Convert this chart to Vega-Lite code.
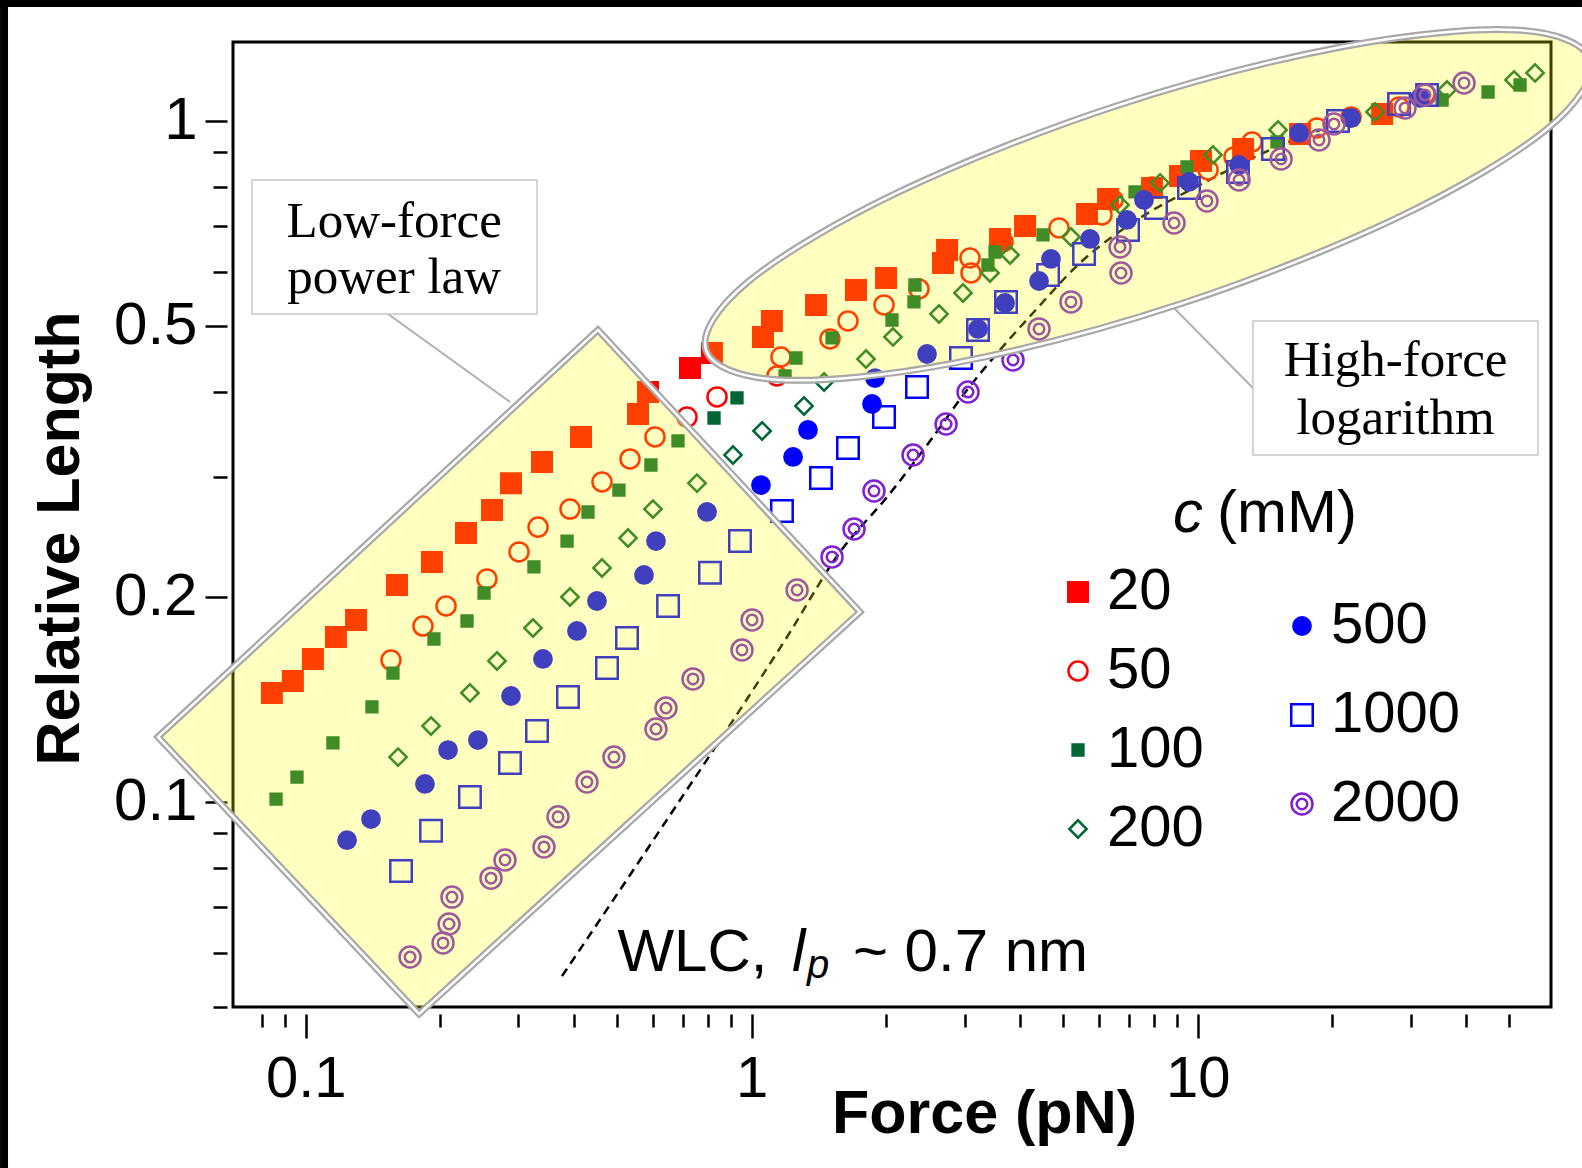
{
"$schema": "https://vega.github.io/schema/vega-lite/v6.json",
"width": 1318, "height": 965,
"autosize": "none",
"padding": {"left": 233, "top": 42, "right": 31, "bottom": 161},
"background": "white",
"config": {"view": {"stroke": "black", "strokeWidth": 3}, "text": {"font": "Liberation Sans", "color": "black"}},
"datasets": {
"pts": [
{"c":"20","F":0.084,"L":0.1445},{"c":"20","F":0.0936,"L":0.1506},{"c":"20","F":0.1038,"L":0.1622},{"c":"20","F":0.1169,"L":0.1747},{"c":"20","F":0.1297,"L":0.1851},{"c":"20","F":0.1602,"L":0.2083},{"c":"20","F":0.1919,"L":0.2251},{"c":"20","F":0.2288,"L":0.2483},{"c":"20","F":0.2617,"L":0.2684},{"c":"20","F":0.2886,"L":0.2939},{"c":"20","F":0.3387,"L":0.3157},{"c":"20","F":0.4143,"L":0.3436},{"c":"20","F":0.556,"L":0.3713},{"c":"20","F":0.5855,"L":0.3999},{"c":"20","F":0.7272,"L":0.4338},{"c":"20","F":0.8144,"L":0.4563},{"c":"20","F":1.06,"L":0.4818},{"c":"20","F":1.11,"L":0.5085},{"c":"20","F":1.394,"L":0.5368},{"c":"20","F":1.713,"L":0.5647},{"c":"20","F":2.001,"L":0.5881},{"c":"20","F":2.685,"L":0.6187},{"c":"20","F":2.742,"L":0.6465},{"c":"20","F":3.604,"L":0.6711},{"c":"20","F":4.101,"L":0.7012},{"c":"20","F":5.647,"L":0.7302},{"c":"20","F":6.295,"L":0.7679},{"c":"20","F":7.9,"L":0.7975},{"c":"20","F":9.127,"L":0.8302},{"c":"20","F":10.17,"L":0.8734},{"c":"20","F":12.64,"L":0.9097},{"c":"20","F":16.96,"L":0.957},{"c":"20","F":25.91,"L":1.024},
{"c":"50","F":0.1553,"L":0.1616},{"c":"50","F":0.1832,"L":0.1813},{"c":"50","F":0.2064,"L":0.194},{"c":"50","F":0.2549,"L":0.2126},{"c":"50","F":0.3008,"L":0.2329},{"c":"50","F":0.3319,"L":0.2533},{"c":"50","F":0.3914,"L":0.2692},{"c":"50","F":0.4617,"L":0.2951},{"c":"50","F":0.5335,"L":0.3189},{"c":"50","F":0.6069,"L":0.3436},{"c":"50","F":0.7161,"L":0.3675},{"c":"50","F":0.8361,"L":0.3933},{"c":"50","F":1.139,"L":0.4222},{"c":"50","F":1.163,"L":0.4502},{"c":"50","F":1.498,"L":0.4786},{"c":"50","F":1.644,"L":0.5085},{"c":"50","F":1.98,"L":0.5368},{"c":"50","F":2.372,"L":0.5666},{"c":"50","F":3.102,"L":0.5981},{"c":"50","F":3.086,"L":0.6292},{"c":"50","F":3.66,"L":0.6644},{"c":"50","F":4.887,"L":0.6965},{"c":"50","F":6.101,"L":0.7278},{"c":"50","F":6.458,"L":0.7656},{"c":"50","F":7.9,"L":0.8},{"c":"50","F":10.55,"L":0.8474},{"c":"50","F":12.06,"L":0.8855},{"c":"50","F":13.24,"L":0.9315},{"c":"50","F":18.51,"L":0.9766},{"c":"50","F":22.07,"L":1.0137},{"c":"50","F":28.28,"L":1.0485},{"c":"50","F":32.33,"L":1.0956},
{"c":"100","F":0.0858,"L":0.101},{"c":"100","F":0.0956,"L":0.1088},{"c":"100","F":0.1151,"L":0.1221},{"c":"100","F":0.1408,"L":0.1379},{"c":"100","F":0.1569,"L":0.1546},{"c":"100","F":0.1939,"L":0.1735},{"c":"100","F":0.23,"L":0.1844},{"c":"100","F":0.2511,"L":0.2027},{"c":"100","F":0.3249,"L":0.2214},{"c":"100","F":0.3855,"L":0.2416},{"c":"100","F":0.4295,"L":0.2666},{"c":"100","F":0.5039,"L":0.2871},{"c":"100","F":0.5944,"L":0.3125},{"c":"100","F":0.6835,"L":0.339},{"c":"100","F":0.8232,"L":0.3663},{"c":"100","F":0.9269,"L":0.392},{"c":"100","F":1.188,"L":0.4222},{"c":"100","F":1.257,"L":0.4487},{"c":"100","F":1.514,"L":0.4802},{"c":"100","F":2.063,"L":0.5102},{"c":"100","F":2.311,"L":0.5424},{"c":"100","F":2.323,"L":0.5743},{"c":"100","F":3.386,"L":0.6145},{"c":"100","F":3.512,"L":0.6421},{"c":"100","F":4.499,"L":0.6804},{"c":"100","F":7.235,"L":0.7866},{"c":"100","F":9.462,"L":0.8561},{"c":"100","F":15.06,"L":0.9315},{"c":"100","F":22.07,"L":1.0034},{"c":"100","F":35.31,"L":1.0735},{"c":"100","F":44.77,"L":1.1029},{"c":"100","F":52.81,"L":1.1294},
{"c":"200","F":0.1611,"L":0.1164},{"c":"200","F":0.191,"L":0.1293},{"c":"200","F":0.2335,"L":0.1446},{"c":"200","F":0.2685,"L":0.1611},{"c":"200","F":0.3233,"L":0.1801},{"c":"200","F":0.3914,"L":0.2},{"c":"200","F":0.4617,"L":0.2206},{"c":"200","F":0.528,"L":0.2441},{"c":"200","F":0.6006,"L":0.2692},{"c":"200","F":0.754,"L":0.2939},{"c":"200","F":0.908,"L":0.3232},{"c":"200","F":1.055,"L":0.3506},{"c":"200","F":1.31,"L":0.3815},{"c":"200","F":1.453,"L":0.4137},{"c":"200","F":1.804,"L":0.4471},{"c":"200","F":2.074,"L":0.4818},{"c":"200","F":2.63,"L":0.5207},{"c":"200","F":2.977,"L":0.559},{"c":"200","F":3.422,"L":0.5981},{"c":"200","F":3.795,"L":0.6357},{"c":"200","F":5.198,"L":0.6755},{"c":"200","F":6.697,"L":0.7527},{"c":"200","F":8.234,"L":0.8111},{"c":"200","F":10.82,"L":0.8915},{"c":"200","F":15.14,"L":0.97},{"c":"200","F":24.98,"L":1.0309},{"c":"200","F":36.22,"L":1.1104},{"c":"200","F":51.2,"L":1.1487},{"c":"200","F":57.06,"L":1.1763},
{"c":"500","F":0.1238,"L":0.0879},{"c":"500","F":0.1401,"L":0.0944},{"c":"500","F":0.1851,"L":0.1063},{"c":"500","F":0.2085,"L":0.1192},{"c":"500","F":0.2433,"L":0.1233},{"c":"500","F":0.2886,"L":0.1431},{"c":"500","F":0.3404,"L":0.1622},{"c":"500","F":0.4057,"L":0.1783},{"c":"500","F":0.4498,"L":0.1973},{"c":"500","F":0.5735,"L":0.2155},{"c":"500","F":0.6101,"L":0.2416},{"c":"500","F":0.794,"L":0.2666},{"c":"500","F":1.049,"L":0.292},{"c":"500","F":1.238,"L":0.3211},{"c":"500","F":1.337,"L":0.3518},{"c":"500","F":1.861,"L":0.3841},{"c":"500","F":1.89,"L":0.4193},{"c":"500","F":2.472,"L":0.4548},{"c":"500","F":3.217,"L":0.4951},{"c":"500","F":3.699,"L":0.5405},{"c":"500","F":4.408,"L":0.5821},{"c":"500","F":4.688,"L":0.6272},{"c":"500","F":5.735,"L":0.6711},{"c":"500","F":6.942,"L":0.7155},{"c":"500","F":7.578,"L":0.7656},{"c":"500","F":9.561,"L":0.8137},{"c":"500","F":12.38,"L":0.8617},{"c":"500","F":16.87,"L":0.9603},{"c":"500","F":22.07,"L":1.0102},{"c":"500","F":31.5,"L":1.0809},
{"c":"1000","F":0.1636,"L":0.0792},{"c":"1000","F":0.191,"L":0.0907},{"c":"1000","F":0.2335,"L":0.1017},{"c":"1000","F":0.2871,"L":0.1141},{"c":"1000","F":0.3301,"L":0.1271},{"c":"1000","F":0.3873,"L":0.1426},{"c":"1000","F":0.4738,"L":0.1573},{"c":"1000","F":0.5253,"L":0.1741},{"c":"1000","F":0.6493,"L":0.194},{"c":"1000","F":0.8063,"L":0.217},{"c":"1000","F":0.9414,"L":0.2416},{"c":"1000","F":1.169,"L":0.2675},{"c":"1000","F":1.43,"L":0.299},{"c":"1000","F":1.644,"L":0.331},{"c":"1000","F":1.98,"L":0.3675},{"c":"1000","F":2.348,"L":0.4067},{"c":"1000","F":2.946,"L":0.4487},{"c":"1000","F":3.217,"L":0.4934},{"c":"1000","F":3.717,"L":0.5424},{"c":"1000","F":4.618,"L":0.5941},{"c":"1000","F":5.561,"L":0.6379},{"c":"1000","F":6.979,"L":0.6918},{"c":"1000","F":8.064,"L":0.745},{"c":"1000","F":9.561,"L":0.7975},{"c":"1000","F":12.31,"L":0.8416},{"c":"1000","F":14.75,"L":0.9097},{"c":"1000","F":20.63,"L":1.0},{"c":"1000","F":28.28,"L":1.059},{"c":"1000","F":32.68,"L":1.092},
{"c":"2000","F":0.1714,"L":0.0592},{"c":"2000","F":0.2032,"L":0.0621},{"c":"2000","F":0.2096,"L":0.0662},{"c":"2000","F":0.2128,"L":0.0725},{"c":"2000","F":0.2603,"L":0.0773},{"c":"2000","F":0.2798,"L":0.0822},{"c":"2000","F":0.3422,"L":0.0859},{"c":"2000","F":0.3679,"L":0.0951},{"c":"2000","F":0.4272,"L":0.107},{"c":"2000","F":0.4911,"L":0.1164},{"c":"2000","F":0.6101,"L":0.128},{"c":"2000","F":0.6424,"L":0.1374},{"c":"2000","F":0.7386,"L":0.1516},{"c":"2000","F":0.9512,"L":0.1672},{"c":"2000","F":1.002,"L":0.1851},{"c":"2000","F":1.264,"L":0.2048},{"c":"2000","F":1.514,"L":0.229},{"c":"2000","F":1.696,"L":0.2517},{"c":"2000","F":1.88,"L":0.2862},{"c":"2000","F":2.3,"L":0.3232},{"c":"2000","F":2.728,"L":0.3589},{"c":"2000","F":3.055,"L":0.3999},{"c":"2000","F":3.854,"L":0.4457},{"c":"2000","F":4.408,"L":0.4951},{"c":"2000","F":5.198,"L":0.5424},{"c":"2000","F":6.73,"L":0.5981},{"c":"2000","F":6.697,"L":0.6531},{"c":"2000","F":8.85,"L":0.7083},{"c":"2000","F":10.49,"L":0.763},{"c":"2000","F":12.38,"L":0.819},{"c":"2000","F":15.38,"L":0.8795},{"c":"2000","F":18.71,"L":0.9378},{"c":"2000","F":20.21,"L":0.9899},{"c":"2000","F":29.16,"L":1.0449},{"c":"2000","F":32.33,"L":1.092},{"c":"2000","F":39.55,"L":1.1372}
],
"wlc": [
{"F":0.3755,"L":0.0555},{"F":0.6101,"L":0.0891},{"F":1.2,"L":0.1747},{"F":1.578,"L":0.2329},{"F":2.012,"L":0.2805},{"F":2.55,"L":0.3436},{"F":3.039,"L":0.4027},{"F":3.604,"L":0.4611},{"F":4.272,"L":0.5224},{"F":5.446,"L":0.6187},{"F":7.424,"L":0.7204},{"F":10.12,"L":0.8055},{"F":14.52,"L":0.9066},{"F":18.8,"L":0.97}
],
"rectpoly": [
{"o":1,"F":0.4521,"L":0.4934},{"o":2,"F":1.749,"L":0.1901},{"o":3,"F":0.1795,"L":0.04884},{"o":4,"F":0.04663,"L":0.1246}
],
"ellipse": [
{"o":1,"F":75.79,"L":1.2291},{"o":2,"F":60.72,"L":0.9733},{"o":3,"F":27.99,"L":0.7205},{"o":4,"F":9.127,"L":0.5385},{"o":5,"F":2.857,"L":0.4413},{"o":6,"F":1.163,"L":0.4166},{"o":7,"F":0.7898,"L":0.4611},{"o":8,"F":0.9862,"L":0.582},{"o":9,"F":2.139,"L":0.7866},{"o":10,"F":6.559,"L":1.052},{"o":11,"F":20.96,"L":1.2841},{"o":12,"F":51.45,"L":1.3604}
]
},
"data": {"values": [{}]},
"layer": [
{"mark": {"type": "rect", "fill": "black"}, "encoding": {"x": {"datum": 0.02064, "type": "quantitative", "axis": null}, "x2": {"datum": 0.02151}, "y": {"datum": 1.506, "type": "quantitative", "axis": null}, "y2": {"datum": 0.02902}}},
{"mark": {"type": "rect", "fill": "black"}, "encoding": {"x": {"datum": 0.02064, "type": "quantitative", "axis": null}, "x2": {"datum": 72.7}, "y": {"datum": 1.506, "type": "quantitative", "axis": null}, "y2": {"datum": 1.47}}},
{"mark": {"type": "rule", "stroke": "#B0B0B0", "strokeWidth": 2}, "encoding": {"x": {"datum": 0.153, "type": "quantitative", "axis": null}, "x2": {"datum": 0.2871}, "y": {"datum": 0.5207, "type": "quantitative", "axis": null}, "y2": {"datum": 0.3867}}},
{"mark": {"type": "rule", "stroke": "#B0B0B0", "strokeWidth": 2}, "encoding": {"x": {"datum": 13.3, "type": "quantitative", "axis": null}, "x2": {"datum": 8.757}, "y": {"datum": 0.4055, "type": "quantitative", "axis": null}, "y2": {"datum": 0.535}}},
{"mark": {"type": "rect", "fill": "white", "stroke": "#C8C8C8", "strokeWidth": 1.5}, "encoding": {"x": {"datum": 0.07578, "type": "quantitative", "axis": null}, "x2": {"datum": 0.3301}, "y": {"datum": 0.819, "type": "quantitative", "axis": null}, "y2": {"datum": 0.5207}}},
{"mark": {"type": "rect", "fill": "white", "stroke": "#C8C8C8", "strokeWidth": 1.5}, "encoding": {"x": {"datum": 13.3, "type": "quantitative", "axis": null}, "x2": {"datum": 57.94}, "y": {"datum": 0.5085, "type": "quantitative", "axis": null}, "y2": {"datum": 0.3232}}},
{"mark": {"type": "text", "text": "Low-force", "font": "Liberation Serif", "fontSize": 51, "align": "center", "baseline": "alphabetic"}, "encoding": {"x": {"datum": 0.1579, "type": "quantitative", "axis": null}, "y": {"datum": 0.6755, "type": "quantitative", "axis": null}}},
{"mark": {"type": "text", "text": "power law", "font": "Liberation Serif", "fontSize": 51, "align": "center", "baseline": "alphabetic"}, "encoding": {"x": {"datum": 0.1579, "type": "quantitative", "axis": null}, "y": {"datum": 0.559, "type": "quantitative", "axis": null}}},
{"mark": {"type": "text", "text": "High-force", "font": "Liberation Serif", "fontSize": 51, "align": "center", "baseline": "alphabetic"}, "encoding": {"x": {"datum": 27.77, "type": "quantitative", "axis": null}, "y": {"datum": 0.4221, "type": "quantitative", "axis": null}}},
{"mark": {"type": "text", "text": "logarithm", "font": "Liberation Serif", "fontSize": 51, "align": "center", "baseline": "alphabetic"}, "encoding": {"x": {"datum": 27.77, "type": "quantitative", "axis": null}, "y": {"datum": 0.3471, "type": "quantitative", "axis": null}}},
{"data": {"name": "wlc"}, "mark": {"type": "line", "stroke": "black", "strokeWidth": 2.5, "strokeDash": [9, 6], "interpolate": "monotone"},
 "encoding": {"x": {"field": "F", "type": "quantitative", "scale": {"type": "log", "domain": [0.06871, 61.96], "nice": false}, "axis": null}, "y": {"field": "L", "type": "quantitative", "scale": {"type": "log", "domain": [0.05, 1.306], "nice": false}, "axis": null}}},
{"data": {"name": "pts"}, "transform": [{"filter": {"field": "c", "oneOf": ["20", "50", "100", "200"]}}],
 "mark": {"type": "point", "opacity": 1, "strokeWidth": 2.5},
 "encoding": {
  "x": {"field": "F", "type": "quantitative", "scale": {"type": "log", "domain": [0.06871, 61.96], "nice": false},
   "axis": {"orient": "bottom", "offset": 7, "domain": false, "grid": false, "labels": false, "title": null,
    "values": [0.08, 0.09, 0.2, 0.3, 0.4, 0.5, 0.6, 0.7, 0.8, 0.9, 2, 3, 4, 5, 6, 7, 8, 9, 20, 30, 40, 50],
    "tickSize": 13, "tickWidth": 2.5, "tickColor": "black"}},
  "y": {"field": "L", "type": "quantitative", "scale": {"type": "log", "domain": [0.05, 1.306], "nice": false},
   "axis": {"orient": "left", "offset": 6, "domain": false, "grid": false, "labels": false, "title": null,
    "values": [0.05, 0.06, 0.07, 0.08, 0.09, 0.3, 0.4, 0.6, 0.7, 0.8, 0.9],
    "tickSize": 14, "tickWidth": 2.5, "tickColor": "black"}},
  "shape": {"field": "c", "type": "ordinal", "scale": {"domain": ["20", "50", "100", "200"], "range": ["square", "circle", "square", "diamond"]},
   "legend": {"orient": "none", "legendX": 816, "legendY": 521, "title": null, "labelFont": "Liberation Sans", "labelFontSize": 58, "labelColor": "black", "labelOffset": 0, "rowPadding": 21, "symbolStrokeWidth": 2.5, "padding": 0, "direction": "vertical"}},
  "fill": {"field": "c", "type": "ordinal", "scale": {"domain": ["20", "50", "100", "200"], "range": ["#FF0000", "transparent", "#006633", "transparent"]}},
  "stroke": {"field": "c", "type": "ordinal", "scale": {"domain": ["20", "50", "100", "200"], "range": ["#FF0000", "#FF0000", "#006633", "#006633"]}},
  "size": {"field": "c", "type": "ordinal", "scale": {"type": "ordinal", "domain": ["20", "50", "100", "200"], "range": [380, 363, 117, 300]}}
 }},
{"data": {"name": "pts"}, "transform": [{"filter": {"field": "c", "oneOf": ["500", "1000", "2000"]}}],
 "mark": {"type": "point", "opacity": 1, "strokeWidth": 2.5},
 "encoding": {
  "x": {"field": "F", "type": "quantitative", "scale": {"type": "log", "domain": [0.06871, 61.96], "nice": false},
   "axis": {"orient": "bottom", "offset": 7, "domain": false, "grid": false,
    "values": [0.1, 1, 10], "format": "~g",
    "tickSize": 24, "tickWidth": 2.5, "tickColor": "black", "labelFont": "Liberation Sans", "labelFontSize": 58, "labelColor": "black", "labelPadding": 12, "labelOverlap": false, "labelFlush": false,
    "title": "Force (pN)", "titleFont": "Liberation Sans", "titleFontSize": 61, "titleFontWeight": "bold", "titleColor": "black", "titleX": 751, "titleY": 118, "titleAlign": "center", "titleBaseline": "alphabetic"}},
  "y": {"field": "L", "type": "quantitative", "scale": {"type": "log", "domain": [0.05, 1.306], "nice": false},
   "axis": {"orient": "left", "offset": 6, "domain": false, "grid": false,
    "values": [0.1, 0.2, 0.5, 1], "format": "~g",
    "tickSize": 22, "tickWidth": 2.5, "tickColor": "black", "labelFont": "Liberation Sans", "labelFontSize": 60, "labelColor": "black", "labelPadding": 8, "labelOverlap": false, "labelFlush": false,
    "title": "Relative Length", "titleFont": "Liberation Sans", "titleFontSize": 61, "titleFontWeight": "bold", "titleColor": "black", "titleAngle": 270, "titleX": -149, "titleY": 496, "titleAlign": "center", "titleBaseline": "alphabetic"}},
  "shape": {"field": "c", "type": "ordinal", "scale": {"domain": ["500", "1000", "2000"], "range": ["circle", "square", "M-1,0A1,1 0 1,0 1,0A1,1 0 1,0 -1,0ZM-0.5,0A0.5,0.5 0 1,0 0.5,0A0.5,0.5 0 1,0 -0.5,0Z"]},
   "legend": {"orient": "none", "legendX": 1040, "legendY": 555, "title": null, "labelFont": "Liberation Sans", "labelFontSize": 58, "labelColor": "black", "labelOffset": 0, "rowPadding": 31, "symbolStrokeWidth": 2.5, "padding": 0, "direction": "vertical"}},
  "fill": {"field": "c", "type": "ordinal", "scale": {"domain": ["500", "1000", "2000"], "range": ["#0000FF", "transparent", "transparent"]}},
  "stroke": {"field": "c", "type": "ordinal", "scale": {"domain": ["500", "1000", "2000"], "range": ["#0000FF", "#0000FF", "#8020D0"]}},
  "size": {"field": "c", "type": "ordinal", "scale": {"type": "ordinal", "domain": ["500", "1000", "2000"], "range": [299, 462, 441]}}
 }},
{"mark": {"type": "text", "text": "WLC,", "fontSize": 60, "align": "left", "baseline": "alphabetic"}, "encoding": {"x": {"datum": 0.5001, "type": "quantitative", "axis": null}, "y": {"datum": 0.05655, "type": "quantitative", "axis": null}}},
{"mark": {"type": "text", "text": "l", "fontSize": 60, "fontStyle": "italic", "align": "left", "baseline": "alphabetic"}, "encoding": {"x": {"datum": 1.231, "type": "quantitative", "axis": null}, "y": {"datum": 0.05655, "type": "quantitative", "axis": null}}},
{"mark": {"type": "text", "text": "p", "fontSize": 40, "fontStyle": "italic", "align": "left", "baseline": "alphabetic"}, "encoding": {"x": {"datum": 1.33, "type": "quantitative", "axis": null}, "y": {"datum": 0.0551, "type": "quantitative", "axis": null}}},
{"mark": {"type": "text", "text": "~ 0.7 nm", "fontSize": 60, "align": "left", "baseline": "alphabetic"}, "encoding": {"x": {"datum": 1.686, "type": "quantitative", "axis": null}, "y": {"datum": 0.05655, "type": "quantitative", "axis": null}}},
{"mark": {"type": "text", "text": "c", "fontSize": 60, "fontStyle": "italic", "align": "left", "baseline": "alphabetic"}, "encoding": {"x": {"datum": 8.805, "type": "quantitative", "axis": null}, "y": {"datum": 0.2491, "type": "quantitative", "axis": null}}},
{"mark": {"type": "text", "text": "(mM)", "fontSize": 60, "align": "left", "baseline": "alphabetic"}, "encoding": {"x": {"datum": 11.05, "type": "quantitative", "axis": null}, "y": {"datum": 0.2491, "type": "quantitative", "axis": null}}},
{"data": {"name": "rectpoly"}, "mark": {"type": "line", "interpolate": "linear-closed", "fill": "#FFFF00", "fillOpacity": 0.25, "stroke": "#A8A8A8", "strokeWidth": 7},
 "encoding": {"x": {"field": "F", "type": "quantitative", "axis": null}, "y": {"field": "L", "type": "quantitative", "axis": null}, "order": {"field": "o", "type": "quantitative"}}},
{"data": {"name": "rectpoly"}, "mark": {"type": "line", "interpolate": "linear-closed", "stroke": "white", "strokeWidth": 2.5},
 "encoding": {"x": {"field": "F", "type": "quantitative", "axis": null}, "y": {"field": "L", "type": "quantitative", "axis": null}, "order": {"field": "o", "type": "quantitative"}}},
{"data": {"name": "ellipse"}, "mark": {"type": "line", "interpolate": "cardinal-closed", "fill": "#FFFF00", "fillOpacity": 0.25, "stroke": "#A8A8A8", "strokeWidth": 7},
 "encoding": {"x": {"field": "F", "type": "quantitative", "axis": null}, "y": {"field": "L", "type": "quantitative", "axis": null}, "order": {"field": "o", "type": "quantitative"}}},
{"data": {"name": "ellipse"}, "mark": {"type": "line", "interpolate": "cardinal-closed", "stroke": "white", "strokeWidth": 2.5},
 "encoding": {"x": {"field": "F", "type": "quantitative", "axis": null}, "y": {"field": "L", "type": "quantitative", "axis": null}, "order": {"field": "o", "type": "quantitative"}}}
],
"resolve": {"scale": {"shape": "independent", "fill": "independent", "stroke": "independent", "size": "independent"}, "axis": {"x": "independent", "y": "independent"}}
}
